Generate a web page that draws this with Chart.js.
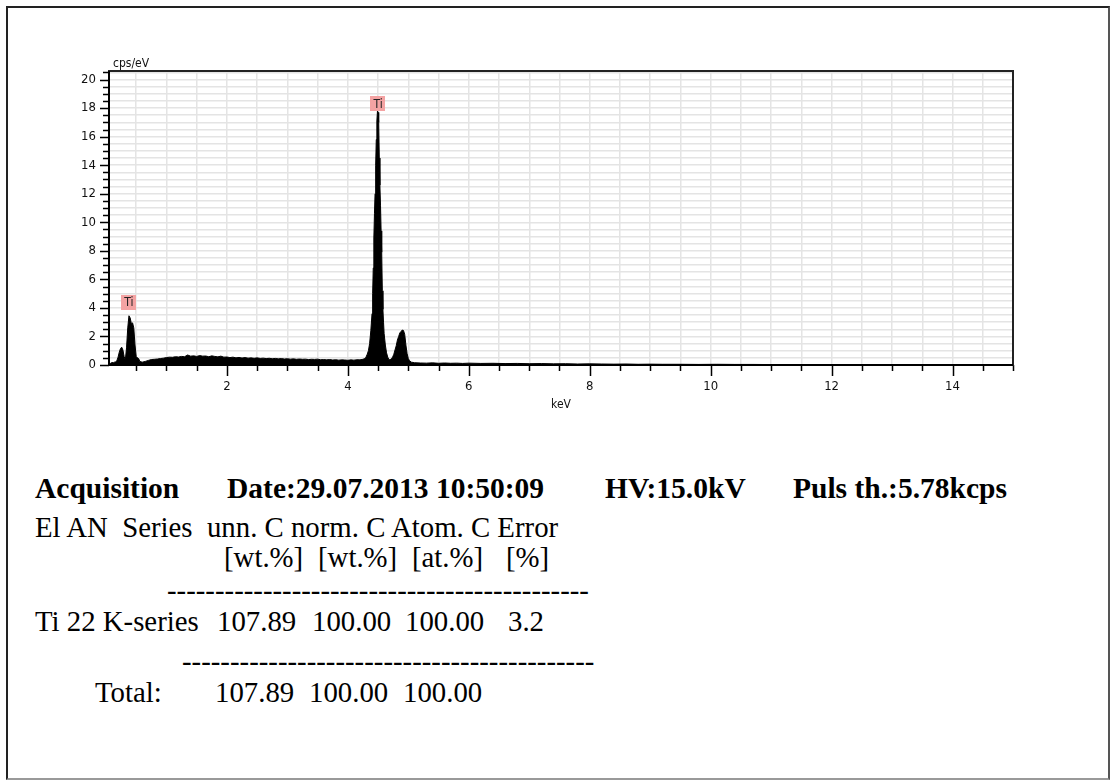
<!DOCTYPE html>
<html>
<head>
<meta charset="utf-8">
<title>EDS spectrum</title>
<script src="https://cdn.jsdelivr.net/npm/chart.js@4.4.1/dist/chart.umd.min.js"></script>
<style>
  body { margin: 0; background: #fff; }
  #page { position: relative; width: 1115px; height: 782px; overflow: hidden; background: #fff; }
  #frame { position: absolute; left: 6px; top: 6px; width: 1100px; height: 770px;
           border: 2px solid #222; border-right-color: #555; border-bottom-color: #999; }
  #spectrum { position: absolute; left: 0; top: 0; }
  .t { position: absolute; font-family: "Liberation Serif", "Times New Roman", serif;
       font-size: 28.8px; line-height: 28px; white-space: pre; color: #000; }
  .b { font-weight: bold; font-size: 29.5px; }
</style>
</head>
<body>
<div id="page">
  <div id="frame"></div>
  <canvas id="spectrum" width="1115" height="430"></canvas>

  <div class="t b" style="left:35px; top:474px">Acquisition</div>
  <div class="t b" style="left:227px; top:474px">Date:29.07.2013 10:50:09</div>
  <div class="t b" style="left:605px; top:474px">HV:15.0kV</div>
  <div class="t b" style="left:793px; top:474px">Puls th.:5.78kcps</div>

  <div class="t" style="left:35px; top:513px">El AN  Series  unn. C norm. C Atom. C Error</div>
  <div class="t" style="left:224px; top:543px">[wt.%]</div>
  <div class="t" style="left:318px; top:543px">[wt.%]</div>
  <div class="t" style="left:412px; top:543px">[at.%]</div>
  <div class="t" style="left:506px; top:543px">[%]</div>
  <div class="t" style="left:167px; top:576px">--------------------------------------------</div>

  <div class="t" style="left:35px; top:607px">Ti 22 K-series</div>
  <div class="t" style="left:217px; top:607px">107.89</div>
  <div class="t" style="left:312px; top:607px">100.00</div>
  <div class="t" style="left:405px; top:607px">100.00</div>
  <div class="t" style="left:508px; top:607px">3.2</div>
  <div class="t" style="left:182px; top:647px">-------------------------------------------</div>

  <div class="t" style="left:95px; top:678px">Total:</div>
  <div class="t" style="left:215px; top:678px">107.89</div>
  <div class="t" style="left:309px; top:678px">100.00</div>
  <div class="t" style="left:403px; top:678px">100.00</div>
</div>

<script>
// spectrum channels (keV) and intensity (cps/eV)
const keV = [
  0.06, 0.08, 0.10, 0.12, 0.14, 0.16, 0.18, 0.20, 0.22, 0.24, 0.26, 0.28, 0.30, 0.32,
  0.34, 0.36, 0.38, 0.40, 0.42, 0.44, 0.46, 0.48, 0.50, 0.52, 0.54, 0.56, 0.58, 0.60,
  0.65, 0.70, 0.75, 0.80, 0.85, 0.90, 0.95, 1.00, 1.05, 1.10, 1.15, 1.20, 1.25, 1.30,
  1.35, 1.40, 1.45, 1.50, 1.55, 1.60, 1.65, 1.70, 1.75, 1.80, 1.85, 1.90, 1.95, 2.00,
  2.05, 2.10, 2.15, 2.20, 2.25, 2.30, 2.35, 2.40, 2.45, 2.50, 2.55, 2.60, 2.65, 2.70,
  2.75, 2.80, 2.85, 2.90, 2.95, 3.00, 3.05, 3.10, 3.15, 3.20, 3.25, 3.30, 3.35, 3.40,
  3.45, 3.50, 3.55, 3.60, 3.65, 3.70, 3.75, 3.80, 3.85, 3.90, 3.95, 4.00, 4.05, 4.10,
  4.15, 4.20, 4.25, 4.28, 4.30, 4.32, 4.34, 4.36, 4.38, 4.40, 4.41, 4.42, 4.43, 4.44,
  4.45, 4.46, 4.47, 4.48, 4.49, 4.50, 4.51, 4.52, 4.53, 4.54, 4.55, 4.56, 4.57, 4.58,
  4.59, 4.60, 4.62, 4.64, 4.66, 4.68, 4.70, 4.72, 4.74, 4.76, 4.78, 4.80, 4.82, 4.84,
  4.86, 4.88, 4.90, 4.92, 4.94, 4.96, 4.98, 5.00, 5.02, 5.05, 5.10, 5.20, 5.30, 5.40,
  5.50, 5.60, 5.70, 5.80, 5.90, 6.00, 6.20, 6.40, 6.60, 6.80, 7.00, 7.20, 7.40, 7.60,
  7.80, 8.00, 8.20, 8.40, 8.60, 8.80, 9.00, 9.20, 9.50, 9.80, 10.1, 10.4, 10.7, 11.0,
  11.5, 12.0, 12.5, 13.0, 13.5, 14.0, 14.5, 15.0
];
const cps = [
  0.10, 0.12, 0.18, 0.15, 0.20, 0.22, 0.30, 0.55, 0.90, 1.15, 1.25, 1.05, 0.60, 0.35,
  1.20, 2.60, 3.45, 3.30, 2.90, 2.95, 2.60, 1.40, 0.60, 0.50, 0.45, 0.25, 0.22, 0.20,
  0.25, 0.32, 0.38, 0.40, 0.42, 0.45, 0.48, 0.52, 0.55, 0.54, 0.58, 0.56, 0.60, 0.58,
  0.70, 0.62, 0.64, 0.60, 0.66, 0.62, 0.63, 0.58, 0.64, 0.60, 0.57, 0.62, 0.55, 0.56,
  0.52, 0.55, 0.50, 0.53, 0.49, 0.52, 0.48, 0.50, 0.47, 0.50, 0.46, 0.48, 0.45, 0.47,
  0.44, 0.46, 0.43, 0.45, 0.42, 0.44, 0.41, 0.43, 0.40, 0.42, 0.40, 0.41, 0.38, 0.40,
  0.39, 0.41, 0.37, 0.38, 0.36, 0.38, 0.35, 0.37, 0.34, 0.36, 0.35, 0.33, 0.36, 0.34,
  0.37, 0.36, 0.40, 0.45, 0.55, 0.75, 1.00, 1.50, 2.40, 3.60, 5.00, 6.80, 8.90, 10.6,
  12.0, 14.0, 15.8, 17.1, 17.8, 17.7, 17.0, 14.5, 12.6, 11.2, 9.40, 7.90, 5.20, 3.90,
  3.00, 2.20, 1.40, 0.85, 0.55, 0.38, 0.35, 0.45, 0.55, 0.75, 1.05, 1.35, 1.75, 2.00,
  2.25, 2.35, 2.45, 2.42, 2.15, 1.40, 0.80, 0.45, 0.30, 0.20, 0.16, 0.14, 0.13, 0.15,
  0.12, 0.14, 0.12, 0.13, 0.11, 0.13, 0.11, 0.12, 0.10, 0.11, 0.09, 0.10, 0.08, 0.09,
  0.07, 0.08, 0.07, 0.06, 0.07, 0.05, 0.06, 0.05, 0.05, 0.04, 0.05, 0.04, 0.04, 0.03,
  0.02, 0.02, 0.01, 0.01, 0.01, 0.00, 0.00, 0.00
];

// labelled ticks; unlabelled minor ticks every 0.5
const xMajor = [2, 4, 6, 8, 10, 12, 14];
const yMajor = [0, 2, 4, 6, 8, 10, 12, 14, 16, 18, 20];
const minorStep = 0.5;

// element markers above the peaks
const peakNames = ['Ti', 'Ti'];
const peakKeV = [0.38, 4.50];
const peakMarkCps = [4.4, 18.3];

const axisFont = '"Liberation Sans Narrow", "DejaVu Sans Condensed", "Liberation Sans", sans-serif';

function stepTicks(scale) {
  const ticks = [];
  const first = Math.ceil(scale.min / minorStep) * minorStep;
  for (let v = first; v <= scale.max + 1e-9; v += minorStep) {
    ticks.push({ value: Math.round(v * 100) / 100 });
  }
  scale.ticks = ticks;
}

const axisDecor = {
  id: 'axisDecor',
  afterDraw(chart) {
    const { ctx, chartArea: a, scales: { x, y } } = chart;
    ctx.save();

    // tick marks, long on labelled values
    ctx.strokeStyle = '#000';
    ctx.lineWidth = 1.5;
    ctx.beginPath();
    x.ticks.forEach(t => {
      const px = Math.round(x.getPixelForValue(t.value)) + 0.5;
      const len = xMajor.includes(t.value) ? 11 : 6;
      ctx.moveTo(px, a.bottom);
      ctx.lineTo(px, a.bottom + len);
    });
    y.ticks.forEach(t => {
      const py = Math.round(y.getPixelForValue(t.value)) + 0.5;
      const len = yMajor.includes(t.value) ? 9 : 6;
      ctx.moveTo(a.left, py);
      ctx.lineTo(a.left - len, py);
    });
    ctx.stroke();

    // plot frame
    ctx.lineWidth = 2;
    ctx.strokeStyle = '#222';
    ctx.strokeRect(a.left, a.top, a.right - a.left, a.bottom - a.top);
    ctx.strokeStyle = '#000';
    ctx.beginPath();
    ctx.moveTo(a.left, a.top);
    ctx.lineTo(a.left, a.bottom);
    ctx.lineTo(a.right, a.bottom);
    ctx.stroke();

    // y unit
    ctx.fillStyle = '#111';
    ctx.font = '12px ' + axisFont;
    ctx.textAlign = 'left';
    ctx.textBaseline = 'bottom';
    ctx.fillText('cps/eV', a.left + 4, a.top - 1);

    // peak markers
    ctx.font = '12px ' + axisFont;
    ctx.textAlign = 'center';
    ctx.textBaseline = 'middle';
    peakNames.forEach((name, i) => {
      const cx = x.getPixelForValue(peakKeV[i]);
      const cy = y.getPixelForValue(peakMarkCps[i]);
      const w = ctx.measureText(name).width + 6;
      const h = 15;
      ctx.fillStyle = '#f4a3a3';
      ctx.fillRect(Math.round(cx - w / 2), Math.round(cy - h / 2), Math.round(w), h);
      ctx.fillStyle = '#222';
      ctx.fillText(name, cx, cy + 1);
    });

    ctx.restore();
  }
};

new Chart('spectrum', {
  type: 'line',
  data: {
    datasets: [{
      label: 'Spectrum',
      data: keV.map((e, i) => ({ x: e, y: cps[i] })),
      borderColor: '#000',
      backgroundColor: '#000',
      borderWidth: 1,
      pointRadius: 0,
      tension: 0,
      fill: 'origin'
    }]
  },
  options: {
    responsive: false,
    animation: false,
    devicePixelRatio: 1,
    layout: { padding: { left: 0, top: 71, right: 102, bottom: 18 } },
    scales: {
      x: {
        type: 'linear',
        min: 0.05,
        max: 15.0,
        afterBuildTicks: stepTicks,
        afterFit: s => { s.height = 47; },
        grid: { color: '#e4e4e4', lineWidth: 1.5, drawTicks: false },
        border: { display: false },
        ticks: {
          autoSkip: false,
          maxRotation: 0,
          padding: 14,
          color: '#111',
          font: { family: axisFont, size: 13 },
          callback: v => xMajor.includes(v) ? String(v) : ''
        },
        title: {
          display: true,
          text: 'keV',
          color: '#111',
          padding: 0,
          font: { family: axisFont, size: 12 }
        }
      },
      y: {
        min: 0,
        max: 20.6,
        afterBuildTicks: stepTicks,
        afterFit: s => { s.width = 109; },
        grid: { color: '#e4e4e4', lineWidth: 1.5, drawTicks: false },
        border: { display: false },
        ticks: {
          autoSkip: false,
          padding: 13,
          color: '#111',
          font: { family: axisFont, size: 13 },
          callback: v => yMajor.includes(v) ? String(v) : ''
        }
      }
    },
    plugins: {
      legend: { display: false },
      tooltip: { enabled: false }
    }
  },
  plugins: [axisDecor]
});
</script>
</body>
</html>
